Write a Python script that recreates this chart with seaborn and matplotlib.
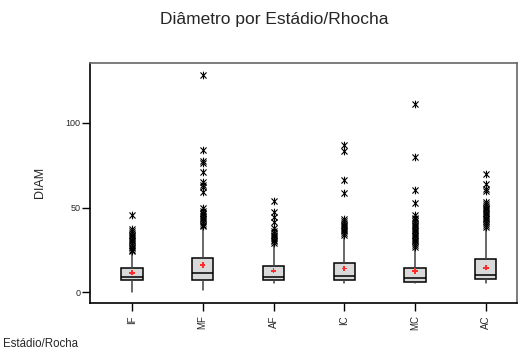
import matplotlib
matplotlib.use("Agg")
import matplotlib.pyplot as plt
from matplotlib.path import Path
import numpy as np
import pandas as pd
import seaborn as sns

# Box summaries per group (DIAM)
categories = ["IF", "MF", "AF", "IC", "MC", "AC"]
q1 = [7.3, 7.3, 7.3, 7.3, 6.3, 7.7]
median = [9.2, 11.2, 9.2, 9.8, 8.3, 10.2]
q3 = [14.2, 20.0, 15.5, 17.1, 14.2, 19.5]
whisker_low = [0.4, 1.4, 5.3, 5.3, 5.3, 5.3]
whisker_high = [23.0, 38.5, 28.0, 32.0, 26.0, 37.5]
means = [11.6, 16.1, 12.8, 14.1, 12.6, 14.5]

# Extreme values beyond the whiskers
outliers_IF = [45.5, 37.5, 36, 35, 34, 33, 32, 31, 30, 29, 28, 27, 26, 25, 24.5]
outliers_MF = [128, 84, 77.5, 76.5, 71, 65, 63.5, 62, 59, 49.5, 48, 47, 46, 45,
               44, 43, 42, 41, 40, 39]
outliers_AF = [54, 47.5, 44.5, 41.5, 38, 36, 35, 34, 33, 32, 31, 30, 29]
outliers_IC = [87, 83.5, 66.5, 58.5, 43, 42, 41, 40, 39, 38, 37, 36, 35, 34]
outliers_MC = [111, 80, 60.5, 52.5, 45.5, 44, 43, 42, 41, 40, 39, 38, 37, 36,
               35, 34, 33, 32, 31, 30, 29, 28, 27]
outliers_AC = [70, 64, 61, 60, 53.5, 52, 51, 50, 49, 48, 47, 46, 45, 44, 43,
               42, 41, 40, 38.5]

outlier_lists = [outliers_IF, outliers_MF, outliers_AF, outliers_IC,
                 outliers_MC, outliers_AC]

sns.set_style("white")
plt.rcParams["font.family"] = ["Liberation Sans", "DejaVu Sans"]

fig = plt.figure(figsize=(5.26, 3.56), dpi=100)
ax = fig.add_axes([0.1711, 0.1497, 0.8118, 0.6733])

positions = np.arange(len(categories))

stats = []
for i, c in enumerate(categories):
    stats.append(dict(label=c, q1=q1[i], med=median[i], q3=q3[i],
                      whislo=whisker_low[i], whishi=whisker_high[i],
                      fliers=[], mean=means[i]))

ax.bxp(stats, positions=positions, widths=0.30, patch_artist=True,
       showfliers=False, showcaps=False, showmeans=False,
       boxprops=dict(facecolor="#d9d9d9", edgecolor="black", linewidth=1.1),
       medianprops=dict(color="black", linewidth=1.1),
       whiskerprops=dict(color="#404040", linewidth=1.1),
       zorder=2)

# Outliers drawn as asterisks
ast = Path([(0, -1), (0, 1), (-0.8, -0.8), (0.8, 0.8), (-0.8, 0.8), (0.8, -0.8)],
           [Path.MOVETO, Path.LINETO, Path.MOVETO, Path.LINETO, Path.MOVETO, Path.LINETO])

out_df = pd.DataFrame({
    "pos": np.concatenate([[i] * len(o) for i, o in enumerate(outlier_lists)]),
    "DIAM": np.concatenate(outlier_lists),
})
sns.scatterplot(data=out_df, x="pos", y="DIAM", marker=ast, s=30,
                color="black", edgecolor="black", linewidth=0.8, ax=ax,
                legend=False, zorder=3)

mean_df = pd.DataFrame({"pos": positions, "mean": means})
sns.scatterplot(data=mean_df, x="pos", y="mean", marker="P", s=15,
                color="#ff2a2a", edgecolor="none", ax=ax, legend=False, zorder=4)

ax.set_xlim(-0.593, 5.44)
ax.set_ylim(-6.1, 135.2)
ax.set_xticks(positions)
ax.set_xticklabels(categories, rotation=90, fontsize=7)
ax.set_yticks([0, 50, 100])
ax.set_yticklabels(["0", "50", "100"], fontsize=6.5)
ax.tick_params(axis="both", direction="out", length=6, width=1,
               color="black", pad=1, left=True, bottom=True)
ax.tick_params(axis="x", pad=3)

ax.set_xlabel("")
ax.set_ylabel("DIAM", fontsize=9, labelpad=14)

for side in ["left", "bottom"]:
    ax.spines[side].set_color("black")
    ax.spines[side].set_linewidth(1.2)
for side in ["top", "right"]:
    ax.spines[side].set_color("#666666")
    ax.spines[side].set_linewidth(1.2)
    ax.spines[side].set_visible(True)

fig.text(0.522, 0.945, "Diâmetro por Estádio/Rhocha", ha="center",
         va="center", fontsize=12.5)
fig.text(0.006, 0.034, "Estádio/Rocha", ha="left", va="center", fontsize=8.3)

fig.savefig("out.png", dpi=100)
